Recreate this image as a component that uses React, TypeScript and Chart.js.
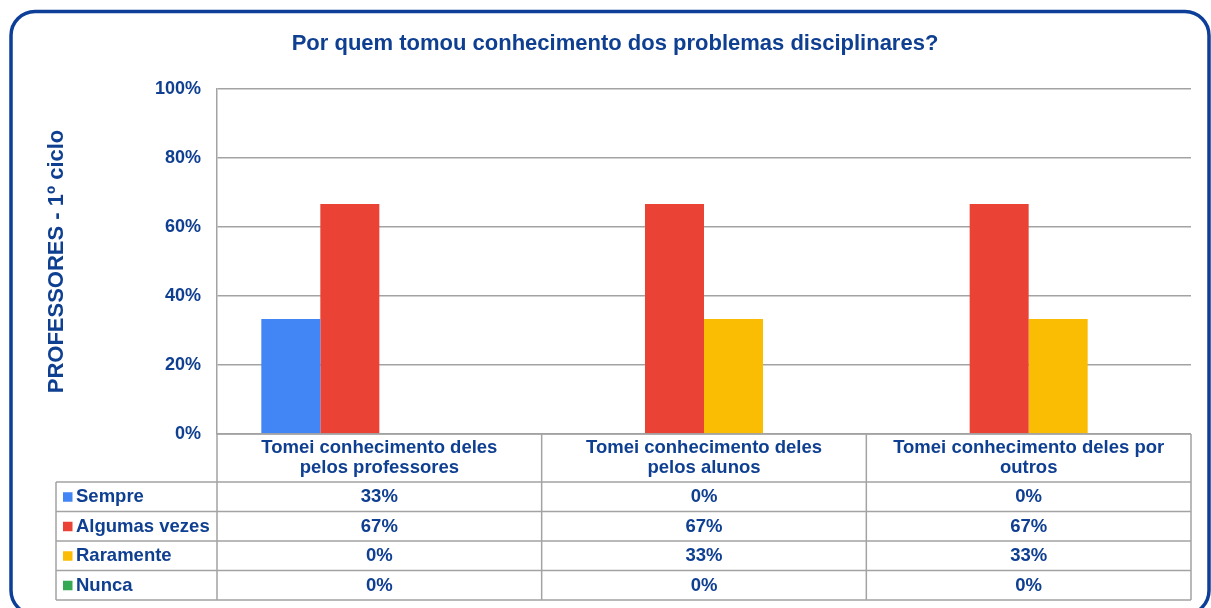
import React, { useEffect, useRef } from "react";
import { Chart, registerables } from "chart.js";

Chart.register(...registerables);

const TITLE = "Por quem tomou conhecimento dos problemas disciplinares?";
const Y_TITLE = "PROFESSORES - 1º ciclo";
const CATEGORY_LINES: string[][] = [
  ["Tomei conhecimento deles", "pelos professores"],
  ["Tomei conhecimento deles", "pelos alunos"],
  ["Tomei conhecimento deles por", "outros"],
];
const SERIES_NAMES = ["Sempre", "Algumas vezes", "Raramente", "Nunca"];
const SEMPRE = [33.33, 0, 0];
const ALGUMAS_VEZES = [66.67, 66.67, 66.67];
const RARAMENTE = [0, 33.33, 33.33];
const NUNCA = [0, 0, 0];
const SERIES_COLORS = ["#4285f4", "#ea4335", "#fbbc04", "#34a853"];
const Y_TICKS = [0, 20, 40, 60, 80, 100];

const TEXT = "#0f3f91";
const FONT = "'Liberation Sans', Arial, sans-serif";
const GRID = "#a3a3a3";

export default function App() {
  const ref = useRef<HTMLCanvasElement | null>(null);
  useEffect(() => {
    if (!ref.current) return;
    const seriesValues = [SEMPRE, ALGUMAS_VEZES, RARAMENTE, NUNCA];
    const tablePlugin = {
      id: "tablePlugin",
      afterDraw(chart: any) {
        const ctx = chart.ctx as CanvasRenderingContext2D;
        const xs = chart.scales.x;
        const area = chart.chartArea;
        const left = area.left;
        const right = area.right;
        const n = CATEGORY_LINES.length;
        const w = (right - left) / n;
        const headerTop = area.bottom;
        const headerBottom = headerTop + 48;
        const rowH = 29.5;
        const tableLeft = 56;
        const tableBottom = headerBottom + rowH * SERIES_NAMES.length;
        ctx.save();
        // border
        ctx.strokeStyle = "#0d3f99";
        ctx.lineWidth = 3.5;
        ctx.beginPath();
        (ctx as any).roundRect(11, 11.5, 1198, 603, 24);
        ctx.stroke();

        // title
        ctx.fillStyle = TEXT;
        ctx.font = `bold 22px ${FONT}`;
        ctx.textAlign = "center";
        ctx.textBaseline = "middle";
        ctx.fillText(TITLE, 615, 44);

        // y title
        ctx.save();
        ctx.translate(57, (area.top + area.bottom) / 2);
        ctx.rotate(-Math.PI / 2);
        ctx.font = `bold 22px ${FONT}`;
        ctx.fillText(Y_TITLE, 0, 0);
        ctx.restore();

        // table lines
        ctx.strokeStyle = GRID;
        ctx.lineWidth = 1.5;
        ctx.beginPath();
        for (let i = 0; i <= n; i++) {
          const x = left + i * w;
          ctx.moveTo(x, headerTop);
          ctx.lineTo(x, tableBottom);
        }
        ctx.moveTo(tableLeft, headerBottom);
        ctx.lineTo(tableLeft, tableBottom);
        ctx.moveTo(left, headerTop);
        ctx.lineTo(right, headerTop);
        for (let r = 0; r <= SERIES_NAMES.length; r++) {
          const y = headerBottom + r * rowH;
          ctx.moveTo(tableLeft, y);
          ctx.lineTo(right, y);
        }
        ctx.stroke();

        // header text
        ctx.fillStyle = TEXT;
        ctx.font = `bold 18.5px ${FONT}`;
        ctx.textAlign = "center";
        for (let i = 0; i < n; i++) {
          const cx = xs.getPixelForValue(i);
          CATEGORY_LINES[i].forEach((line, k) => {
            ctx.fillText(line, cx, headerTop + 14 + k * 20);
          });
        }
        // rows
        for (let r = 0; r < SERIES_NAMES.length; r++) {
          const cy = headerBottom + r * rowH + rowH / 2 + 0.5;
          ctx.fillStyle = SERIES_COLORS[r];
          ctx.fillRect(63, cy - 5, 9.5, 9.5);
          ctx.fillStyle = TEXT;
          ctx.textAlign = "left";
          ctx.fillText(SERIES_NAMES[r], 76, cy);
          ctx.textAlign = "center";
          for (let i = 0; i < n; i++) {
            ctx.fillText(Math.round(seriesValues[r][i]) + "%", xs.getPixelForValue(i), cy);
          }
        }
        ctx.restore();
      },
    };

    const chart = new Chart(ref.current, {
      type: "bar",
      data: {
        labels: CATEGORY_LINES.map((l) => l.join(" ")),
        datasets: SERIES_NAMES.map((name, i) => ({
          label: name,
          data: seriesValues[i],
          backgroundColor: SERIES_COLORS[i],
          borderWidth: 0,
          barPercentage: 1,
          categoryPercentage: 0.727,
        })),
      },
      options: {
        responsive: false,
        animation: false,
        devicePixelRatio: 1,
        layout: { padding: { top: 89, right: 20, bottom: 0, left: 0 } },
        plugins: {
          legend: { display: false },
          title: { display: false },
          tooltip: { enabled: false },
        },
        scales: {
          x: {
            ticks: { display: false },
            grid: { display: false },
            border: { display: false },
            afterFit: (s: any) => {
              s.height = 174;
            },
          },
          y: {
            min: 0,
            max: 100,
            afterBuildTicks: (s: any) => {
              s.ticks = Y_TICKS.map((v) => ({ value: v }));
            },
            ticks: {
              padding: 16,
              color: TEXT,
              font: { family: FONT, size: 18, weight: "bold" },
              callback: (v: any) => v + "%",
            },
            grid: { color: GRID, lineWidth: 1.5, drawTicks: false },
            border: { display: true, color: GRID, width: 1.5 },
            afterFit: (s: any) => {
              s.width = 217;
            },
          },
        },
      },
      plugins: [tablePlugin],
    });
    return () => chart.destroy();
  }, []);

  return (
    <div style={{ position: "fixed", left: 0, top: 0, width: 1211, height: 608, background: "#fff" }}>
      <canvas ref={ref} width={1211} height={608} style={{ display: "block" }} />
    </div>
  );
}
